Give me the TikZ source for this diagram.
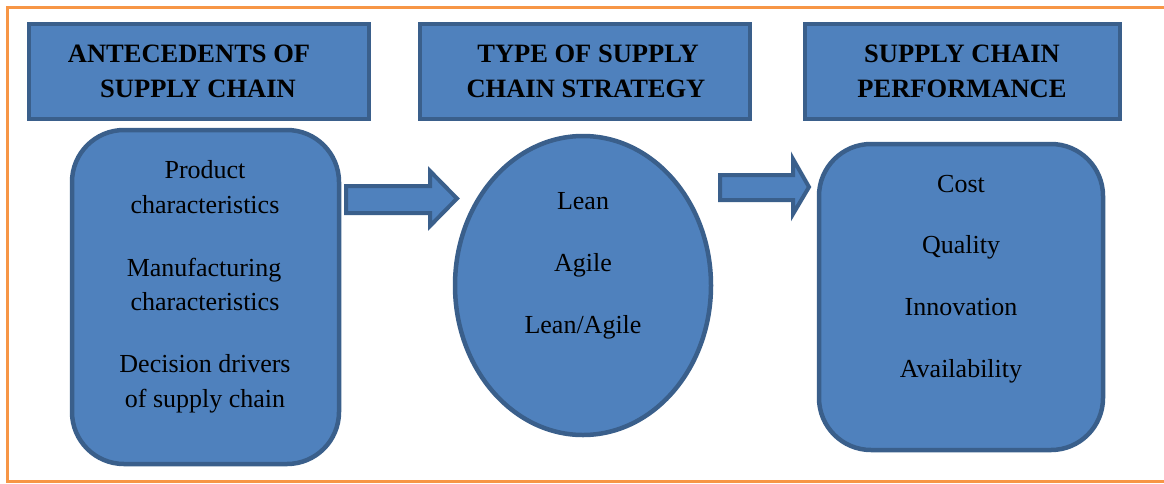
\documentclass[tikz,border=0pt]{standalone}
\usepackage{fontspec}
\setmainfont{Liberation Serif}
\definecolor{boxfill}{HTML}{4F81BD}
\definecolor{boxline}{HTML}{3A5F8B}
\definecolor{frameor}{HTML}{F79646}
\tikzset{
  hdr/.style={draw=boxline, fill=boxfill, line width=4.5pt, inner sep=0pt},
  rbox/.style={draw=boxline, fill=boxfill, line width=4.5pt, rounded corners=52pt, inner sep=0pt},
  oval/.style={draw=boxline, fill=boxfill, line width=4.5pt, ellipse, inner sep=0pt},
  htxt/.style={font=\fontsize{26.5}{35}\selectfont\bfseries, anchor=base, inner sep=0pt},
  btxt/.style={font=\fontsize{26}{35}\selectfont, anchor=base, inner sep=0pt},
  blockarrow/.style={draw=boxline, fill=boxfill, line width=4pt, line join=miter},
}
\usetikzlibrary{shapes.geometric}
\begin{document}
\begin{tikzpicture}[x=1pt,y=-1pt]
\useasboundingbox (0,0) rectangle (1164,483);
% orange frame (no right side)
\draw[frameor, line width=3pt] (1164,7.5) -- (7.5,7.5) -- (7.5,481) -- (1164,481);
% header boxes
\node[hdr, minimum width=340pt, minimum height=95pt] (h1) at (199,71.5) {};
\node[hdr, minimum width=330pt, minimum height=95pt] (h2) at (585,71.5) {};
\node[hdr, minimum width=315pt, minimum height=95pt] (h3) at (962.5,71.5) {};
\node[htxt] (h1a) at (189,62) {ANTECEDENTS OF};
\node[htxt] (h1b) at (198,97) {SUPPLY CHAIN};
\node[htxt] (h2a) at (588,62) {TYPE OF SUPPLY};
\node[htxt] (h2b) at (586,97) {CHAIN STRATEGY};
\node[htxt] (h3a) at (962,62) {SUPPLY CHAIN};
\node[htxt] (h3b) at (962,97) {PERFORMANCE};
% body shapes
\node[rbox, minimum width=267pt, minimum height=334pt] (b1) at (205.5,297) {};
\node[oval, minimum width=256pt, minimum height=299pt] (b2) at (583,285.5) {};
\node[rbox, minimum width=284pt, minimum height=306pt] (b3) at (961,297) {};
% block arrows
\draw[blockarrow] (346,186) -- (430,186) -- (430,171) -- (457,198.5) -- (430,226) -- (430,213) -- (346,213) -- cycle;
\draw[blockarrow] (720,175) -- (793,175) -- (793,159) -- (809,187) -- (793,214) -- (793,200) -- (720,200) -- cycle;
% left texts
\node[btxt] (t1) at (205,178) {Product};
\node[btxt] (t2) at (205,213) {characteristics};
\node[btxt] (t3) at (204,276) {Manufacturing};
\node[btxt] (t4) at (205,310) {characteristics};
\node[btxt] (t5) at (205,372) {Decision drivers};
\node[btxt] (t6) at (205,407) {of supply chain};
% middle texts
\node[btxt] (m1) at (583,209) {Lean};
\node[btxt] (m2) at (583,271) {Agile};
\node[btxt] (m3) at (583,333) {Lean/Agile};
% right texts
\node[btxt] (r1) at (961,192) {Cost};
\node[btxt] (r2) at (961,253) {Quality};
\node[btxt] (r3) at (961,315) {Innovation};
\node[btxt] (r4) at (961,377) {Availability};
\end{tikzpicture}
\end{document}
